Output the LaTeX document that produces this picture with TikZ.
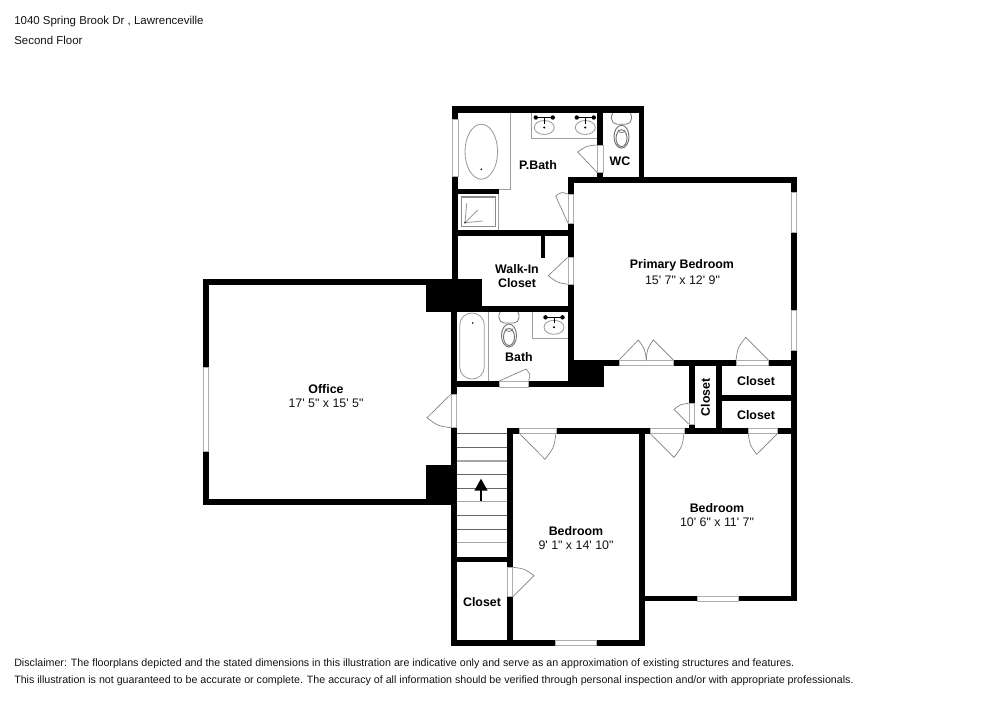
\documentclass[tikz,border=0pt]{standalone}
\usepackage{fontspec}
\usetikzlibrary{calc}
\newfontfamily\arialf{Liberation Sans}
\definecolor{fixgray}{gray}{0.62}
\definecolor{wingray}{gray}{0.68}
\definecolor{textc}{gray}{0.08}
\tikzset{
  wall/.style={fill=black,draw=none},
  gapbox/.style={fill=white,draw=wingray,line width=0.7pt},
  doorline/.style={draw=black!50,line width=0.5pt},
  fixture/.style={draw=fixgray,line width=0.65pt},
  stairline/.style={draw=black!60,line width=0.6pt},
  stairlight/.style={draw=black!35,line width=0.8pt},
  roomname/.style={font=\arialf\fontsize{9.3}{11}\selectfont\bfseries,text=black,inner sep=0pt,yshift=-0.4pt},
  roomdim/.style={font=\arialf\fontsize{9.3}{11}\selectfont,text=textc,inner sep=0pt,yshift=-0.4pt},
  caption/.style={font=\arialf\fontsize{8.6}{10}\selectfont,text=textc,inner sep=0pt,anchor=west},
  disclaimer/.style={font=\arialf\fontsize{8}{10}\selectfont,text=textc,inner sep=0pt,anchor=west},
}
\newcommand\wl[4]{\fill[wall] (#1,#2) rectangle (#3,#4);}
\newcommand\gp[4]{\path[gapbox] (#1,#2) rectangle (#3,#4);}
\newcommand\leaf[6]{\draw[doorline] (#1,#2) -- (#3,#4) .. controls ($(#1,#2)!1.11!($(#3,#4)!.5!(#5,#6)$)$) .. (#5,#6);}
\newcommand\sinkset[2]{%
  \draw[fixture] (#1,#2) ellipse (10 and 7);
  \fill[black] (#1,#2) circle (1.1);
  \draw[black,line width=0.9pt] (#1-8.5,#2-10) -- (#1+8.5,#2-10);
  \draw[black,line width=0.7pt] (#1,#2-10) -- (#1,#2-4);
  \fill[black] (#1-8.5,#2-10) circle (2.2) (#1+8.5,#2-10) circle (2.2);
}
\newcommand\toiletset[2]{%
  \draw[draw=black!50,line width=0.65pt,fill=white,rounded corners=4] (#1-10,#2-2) rectangle (#1+10,#2+11.5);
  \draw[draw=black!55,line width=0.7pt] (#1,#2+24) ellipse (7.5 and 11.5);
  \draw[draw=black!55,line width=0.7pt] (#1,#2+25.5) ellipse (5.5 and 8.5);
  \draw[draw=black!55,line width=0.5pt] (#1-3.5,#2+17) arc (180:0:3.5 and 3);
}
\begin{document}
\begin{tikzpicture}[x=0.75pt,y=-0.75pt]
\useasboundingbox (0,0) rectangle (1000,707);
\fill[white] (0,0) rectangle (1000,707);

% fixtures
\draw[fixture] (458,112) -- (510.3,112) -- (510.3,189.3) -- (458,189.3);
\draw[fixture] (481.3,151.7) ellipse (16.3 and 27.5);
\fill[black] (481.3,169.3) circle (0.9);
\draw[fixture] (498.3,194) -- (498.3,230);
\path[draw=black!45,line width=1.1pt] (461.5,196.8) rectangle (495.3,226.6);
\draw[fixture] (465,222.7) -- (466.7,203.3) (465,222.7) -- (477.7,210) (465,222.7) -- (482.7,221);
\fill[black] (465,222.7) circle (0.9);
\draw[fixture] (531.7,112) -- (531.7,138.3) -- (597.5,138.3);
\draw[fixture] (459.7,313) [rounded corners=9] -- (459.7,379) -- (484.3,379) -- (484.3,313) -- cycle;
\fill[black] (472.7,323) circle (0.9);
\draw[fixture] (488.3,311) -- (488.3,381);
\draw[fixture] (532.7,311) -- (532.7,338.3) -- (568,338.3);
\sinkset{544.3}{127.5}
\sinkset{585.3}{127.5}
\sinkset{554}{327.3}
\toiletset{621.5}{112.7}
\toiletset{509}{311.5}

% stairs
\foreach \yy in {433.3,447.3,474.7,488.3,515.3,529.3} {\draw[stairline] (457,\yy) -- (507.5,\yy);}
\foreach \yy in {461,501.7,542.7} {\draw[stairlight] (457,\yy) -- (507.5,\yy);}
\fill[black] (481,478.7) -- (487.7,490.7) -- (474.3,490.7) -- cycle;
\fill[black] (480,490) rectangle (482,501);

% walls
\wl{452.3}{106}{644.3}{112.7}
\wl{452.3}{106}{458.3}{285}
\wl{597.3}{106}{603.3}{183}
\wl{638.7}{106}{644.3}{183}
\wl{568}{176.7}{796.7}{182.7}
\wl{568}{176.7}{573.8}{387}
\wl{452.3}{229.7}{573.8}{235.7}
\wl{452.3}{189.3}{499}{194.3}
\wl{540.7}{235}{545}{257.7}
\wl{426}{279}{481.7}{311.7}
\wl{426}{305.7}{573.8}{311.7}
\wl{202.7}{279.3}{426.5}{285.3}
\wl{202.7}{499.3}{426.5}{505.3}
\wl{202.7}{279.3}{209}{505.3}
\wl{426}{464.7}{451.5}{505.3}
\wl{451}{305}{457}{646}
\wl{451}{381}{604.3}{387.3}
\wl{568}{360}{604.3}{387.3}
\wl{568}{360}{796.7}{365.7}
\wl{791}{176.7}{796.7}{601.3}
\wl{688.7}{365}{694.7}{433.7}
\wl{716}{365}{722}{433.7}
\wl{722}{395}{791}{401}
\wl{507}{427.7}{796.7}{433.7}
\wl{507.3}{427.7}{513}{646}
\wl{451}{556.7}{513}{562.3}
\wl{639.3}{433}{645.3}{646}
\wl{451}{640}{645.3}{646}
\wl{645}{595.7}{796.7}{601.3}

% windows
\gp{452.6}{119}{458}{176}
\gp{791.3}{192.3}{796.4}{232.3}
\gp{791.3}{310}{796.4}{350.3}
\gp{203}{367.7}{208.7}{451.7}
\gp{555.7}{640.3}{596.3}{645.7}
\gp{697}{596}{738}{601}

% door openings
\gp{597.6}{145}{603}{172.7}
\gp{568.3}{194}{573.5}{223.3}
\gp{568}{257.3}{573.5}{284.3}
\gp{499.3}{381.3}{528.7}{387}
\gp{619}{360.3}{673.3}{365.4}
\gp{736}{360.3}{768.3}{365.4}
\gp{689}{403.3}{694.4}{424}
\gp{451.3}{394}{456.7}{427.7}
\gp{519.3}{428}{556}{433.4}
\gp{650}{428}{684}{433.4}
\gp{748.3}{428}{777.7}{433.4}
\gp{507.6}{567.3}{512.8}{596.7}

% door leaves
\leaf{597.3}{172.7}{577.7}{152}{597.3}{145}
\leaf{568}{223.3}{555.7}{196}{568}{194}
\leaf{567.7}{257.3}{548.3}{275.7}{567.7}{284.3}
\leaf{499.3}{381}{526}{369}{528.7}{381}
\leaf{619}{360}{638.3}{340}{646.3}{360}
\leaf{673.3}{360}{653.3}{340}{646.3}{360}
\leaf{768.3}{360}{745.7}{337.3}{736}{360}
\leaf{688.7}{424}{674}{409.3}{688.7}{403.3}
\leaf{451}{394}{427}{417.7}{451}{427.7}
\leaf{519.3}{433.3}{545}{459.3}{556}{433.3}
\leaf{650}{433.5}{674}{457.3}{684}{433.5}
\leaf{777.7}{433.5}{756.7}{454.3}{748.3}{433.5}
\leaf{513}{596.7}{534}{575.7}{513}{567.3}

% labels
\node[roomname] (pbath) at (538,165) {P.Bath};
\node[roomname] (wc) at (620,161) {WC};
\node[roomname] (primary) at (682,265) {Primary Bedroom};
\node[roomdim] (primarydim) at (682.5,279.5) {15' 7" x 12' 9"};
\node[roomname] (walkin) at (517,269) {Walk-In};
\node[roomname] (walkinb) at (517,283) {Closet};
\node[roomname] (bath) at (519,356.5) {Bath};
\node[roomname] (office) at (326,389) {Office};
\node[roomdim] (officedim) at (326,403) {17' 5" x 15' 5"};
\node[roomname,rotate=90,xshift=-0.4pt,yshift=0.4pt] (closetv) at (706,396) {Closet};
\node[roomname] (closeta) at (756,381) {Closet};
\node[roomname] (closetb) at (756,415) {Closet};
\node[roomname] (bedb) at (717,508) {Bedroom};
\node[roomdim] (bedbdim) at (717,522) {10' 6" x 11' 7"};
\node[roomname] (beda) at (576,531) {Bedroom};
\node[roomdim] (bedadim) at (576,544.5) {9' 1" x 14' 10"};
\node[roomname] (closetc) at (482,602) {Closet};

\node[caption] (addr) at (14,22) {1040 Spring Brook Dr , Lawrenceville};
\node[caption] (floor) at (14,40) {Second Floor};
\node[disclaimer] (disc) at (14,663.3) {Disclaimer: The floorplans depicted and the stated dimensions in this illustration are indicative only and serve as an approximation of existing structures and features.};
\node[disclaimer] (discb) at (14,680.5) {This illustration is not guaranteed to be accurate or complete. The accuracy of all information should be verified through personal inspection and/or with appropriate professionals.};
\end{tikzpicture}
\end{document}
